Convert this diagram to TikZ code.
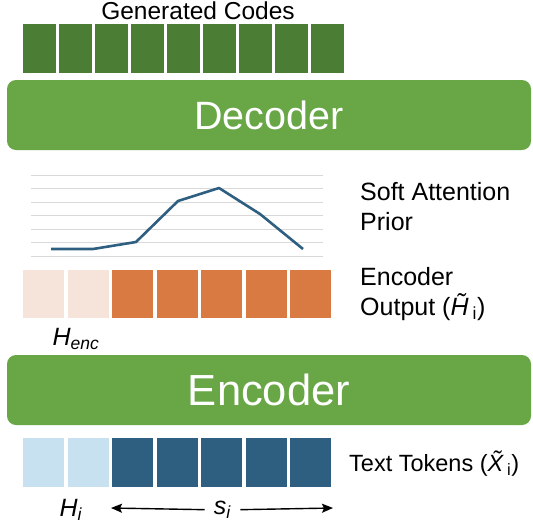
\documentclass[tikz,border=0pt]{standalone}
\usepackage{fontspec}
\setmainfont{Liberation Sans}
\usetikzlibrary{positioning,arrows.meta}

\definecolor{barGreen}{RGB}{104,166,70}
\definecolor{codeGreen}{RGB}{75,125,52}
\definecolor{encOrange}{RGB}{217,122,66}
\definecolor{encPeach}{RGB}{246,228,218}
\definecolor{tokBlue}{RGB}{46,95,128}
\definecolor{tokLight}{RGB}{200,225,240}
\definecolor{gridGray}{RGB}{217,217,217}

\tikzset{
  bar/.style={rectangle,rounded corners=9pt,fill=barGreen,text=white,minimum width=524pt,minimum height=70pt},
  codebox/.style={rectangle,fill=codeGreen,minimum width=33pt,minimum height=49pt},
  outbox/.style={rectangle,minimum width=41pt,minimum height=48pt},
  tokbox/.style={rectangle,minimum width=41pt,minimum height=49pt},
  label/.style={anchor=west,align=left},
  span/.style={-{Stealth[length=11pt,width=9pt,inset=2pt]},line width=1.4pt}
}

\begin{document}
\begin{tikzpicture}[x=1pt,y=-1pt,every node/.style={font=\fontsize{25}{30}\selectfont,inner sep=0pt}]
  \useasboundingbox (0,0) rectangle (533,528);

  % Generated codes
  \node (gen) at (198,11) {\fontsize{24.5}{28}\selectfont Generated Codes};
  \foreach \i in {0,...,8}
    \node[codebox] (code\i) at (39.5+\i*36,48.5) {};

  % Decoder
  \node[bar,font=\fontsize{39.5}{42}\selectfont] (dec) at (269,115) {Decoder};

  % Soft attention prior
  \foreach \k in {0,...,6}
    \draw[gridGray,line width=1pt] (31,175+\k*13.5) -- (323,175+\k*13.5);
  \draw[tokBlue,line width=2.6pt,line join=round] plot coordinates
    {(51,249) (93,249) (136,242) (178,201) (219,188) (260,214) (303,249)};
  \node[label] (prior) at (360,207) {Soft Attention\\Prior};

  % Encoder output
  \foreach \i in {0,1}
    \node[outbox,fill=encPeach] (out\i) at (43.5+\i*44.5,294) {};
  \foreach \i in {2,...,6}
    \node[outbox,fill=encOrange] (out\i) at (43.5+\i*44.5,294) {};
  \node[label] (outlab) at (360,294) {Encoder\\Output (\textit{\~H}\,\textsubscript{i})};
  \node (henc) at (76,339) {\textit{H}\textsubscript{\textit{enc}}};

  % Encoder
  \node[bar,font=\fontsize{43.5}{46}\selectfont] (enc) at (269,390) {Encoder};

  % Text tokens
  \foreach \i in {0,1}
    \node[tokbox,fill=tokLight] (tok\i) at (43.5+\i*44.5,462.5) {};
  \foreach \i in {2,...,6}
    \node[tokbox,fill=tokBlue] (tok\i) at (43.5+\i*44.5,462.5) {};
  \node[label,font=\fontsize{23.5}{28}\selectfont] (toklab) at (349,464) {Text Tokens (\textit{\~X}\,\textsubscript{i})};

  % Lengths
  \node (hi) at (71,510) {\textit{H}\textsubscript{\textit{i}}};
  \node[inner xsep=9pt] (si) at (222.5,510) {\textit{s}\textsubscript{\textit{i}}};
  \coordinate (sL) at (111,508);
  \coordinate (sR) at (333,508);
  \draw[span] (si) -- (sL);
  \draw[span] (si) -- (sR);
\end{tikzpicture}
\end{document}
